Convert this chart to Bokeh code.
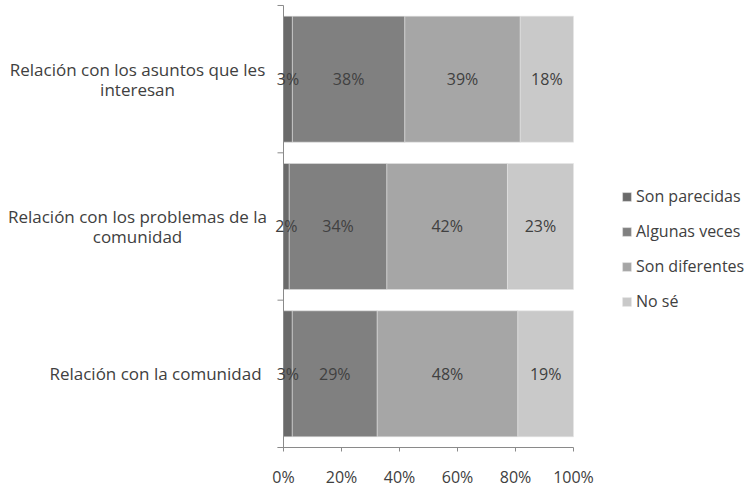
from bokeh.plotting import figure
from bokeh.models import (ColumnDataSource, Legend, LegendItem,
                          FixedTicker, Range1d)
from bokeh.core.properties import value
from bokeh.embed import file_html
from bokeh.resources import INLINE

# ---- data ----
categories = ["Relación con los asuntos que les\ninteresan",
              "Relación con los problemas de la\ncomunidad",
              "Relación con la comunidad"]
series = ["Son parecidas", "Algunas veces", "Son diferentes", "No sé"]
son_parecidas = [3, 2, 3]
algunas_veces = [38, 34, 29]
son_diferentes = [39, 42, 48]
no_se = [18, 23, 19]
x_ticks = [0, 20, 40, 60, 80, 100]
x_tick_labels = ["0%", "20%", "40%", "60%", "80%", "100%"]

# ---- style / layout ----
colors = ["#6a6a6a", "#808080", "#a6a6a6", "#c9c9c9"]
FONT = "Open Sans"
FS = "16px"
CAT_FS = "17px"
TXT = "#404040"
AX = "#8a8a8a"
W, H = 750, 490
PX0, PX100 = 283, 573          # pixel x of 0% and 100%
BAND_PX = 148                  # pixel height of one category band
TOP_PAD_PX = 5
BOTTOM_PX = 41
cat_label_center_px = [137, 137, 155]
LINE_PX = 20

values = [son_parecidas, algunas_veces, son_diferentes, no_se]
n = len(categories)
ypos = [n - i - 0.5 for i in range(n)]
totals = [sum(v[i] for v in values) for i in range(n)]

ppu = (PX100 - PX0) / 100.0
x_start = -PX0 / ppu
x_end = (W - PX0) / ppu
y_end = n + TOP_PAD_PX / BAND_PX

p = figure(width=W, height=H, output_backend="svg", toolbar_location=None,
           x_range=Range1d(x_start, x_end), y_range=Range1d(0, y_end),
           min_border_left=0, min_border_right=0, min_border_top=0,
           min_border_bottom=BOTTOM_PX)
p.outline_line_color = None
p.xgrid.visible = False
p.ygrid.visible = False
p.yaxis.visible = False
p.background_fill_color = "white"
p.border_fill_color = "white"

renderers = []
lab_x, lab_y, lab_t = [], [], []
cum = [0.0] * n
for s, vals, c in zip(series, values, colors):
    left = [cum[i] for i in range(n)]
    right = [cum[i] + vals[i] * 100.0 / totals[i] for i in range(n)]
    src = ColumnDataSource(dict(y=ypos, left=left, right=right))
    r = p.hbar(y="y", left="left", right="right", height=0.855, source=src,
               fill_color=c, line_color="#e6e6e6", line_alpha=0.5, line_width=1)
    renderers.append(r)
    for i in range(n):
        lab_x.append((left[i] + right[i]) / 2)
        lab_y.append(ypos[i])
        lab_t.append(f"{vals[i]}%")
    cum = right

# vertical axis line at 0% with ticks at category boundaries
bounds_y = list(range(n + 1))
tick_len = 6 / ppu
p.segment(x0=[0], x1=[0], y0=[0], y1=[n], line_color=AX, line_width=1)
p.segment(x0=[0] * len(bounds_y), x1=[-tick_len] * len(bounds_y), y0=bounds_y, y1=bounds_y,
          line_color=AX, line_width=1)

# value labels
lsrc = ColumnDataSource(dict(x=lab_x, y=lab_y, t=lab_t))
p.text(x="x", y="y", text="t", source=lsrc, text_align="center",
       text_baseline="middle", text_font=value(FONT),
       text_font_size=value(FS), text_color=TXT)

# category labels (each line centred within its block)
cx, cy, ct = [], [], []
for i, cat in enumerate(categories):
    lines = cat.split("\n")
    L = len(lines)
    for k, ln in enumerate(lines):
        cx.append((cat_label_center_px[i] - PX0) / ppu)
        cy.append(ypos[i] - (k - (L - 1) / 2) * LINE_PX / BAND_PX)
        ct.append(ln)
csrc = ColumnDataSource(dict(x=cx, y=cy, t=ct))
p.text(x="x", y="y", text="t", source=csrc, text_align="center",
       text_baseline="middle", text_font=value(FONT),
       text_font_size=value(CAT_FS), text_color=TXT)

# x axis
p.xaxis.ticker = FixedTicker(ticks=x_ticks)
p.xaxis.bounds = (-tick_len, 100)
p.xaxis.major_label_overrides = {t: l for t, l in zip(x_ticks, x_tick_labels)}
p.xaxis.minor_tick_line_color = None
p.xaxis.major_tick_in = 0
p.xaxis.major_tick_out = 4
p.xaxis.axis_line_color = AX
p.xaxis.major_tick_line_color = AX
p.xaxis.major_label_text_font = FONT
p.xaxis.major_label_text_font_size = FS
p.xaxis.major_label_text_color = TXT
p.xaxis.major_label_standoff = 14

legend = Legend(items=[LegendItem(label=s, renderers=[r]) for s, r in zip(series, renderers)],
                location=(621, 135), orientation="vertical",
                glyph_width=11, glyph_height=11, label_height=20, spacing=13,
                label_standoff=4, padding=0, margin=0, border_line_color=None,
                background_fill_alpha=0, label_text_font=FONT,
                label_text_font_size=FS, label_text_color=TXT)
p.add_layout(legend)

open("out.html", "w").write(file_html(p, INLINE))
